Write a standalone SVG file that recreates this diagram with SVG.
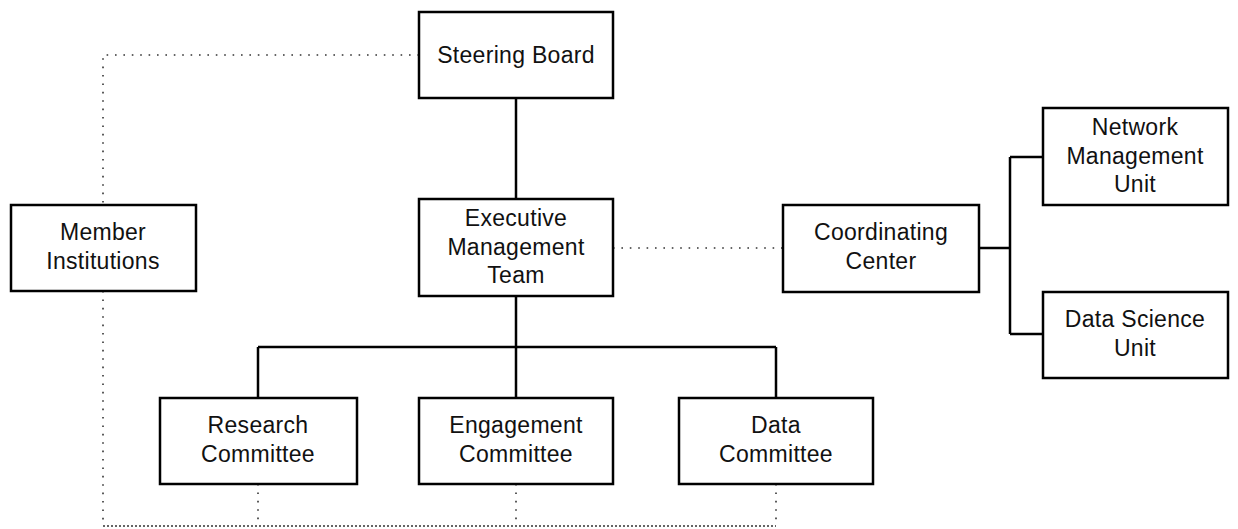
<svg xmlns="http://www.w3.org/2000/svg" width="1238" height="529" viewBox="0 0 1238 529">
  <style>
    .box { fill: #ffffff; stroke: #000000; stroke-width: 2.5; }
    .label { font-family: "Liberation Sans", Arial, sans-serif; font-size: 23px; letter-spacing: 0.3px; fill: #111111; text-anchor: middle; }
    .solid { fill: none; stroke: #000000; stroke-width: 2.5; }
    .dotted { fill: none; stroke: #333333; stroke-width: 1.6; stroke-dasharray: 1.6 6.8; }
    .dense { fill: none; stroke: #333333; stroke-width: 1.4; stroke-dasharray: 2 2; }
  </style>
  <rect width="1238" height="529" fill="#ffffff"/>

  <g id="connectors">
    <!-- reporting lines -->
    <path class="solid" d="M516 98 V199"/>
    <path class="solid" d="M516 296 V347 M258 347 H776 M258 347 V398 M516 347 V398 M776 347 V398"/>
    <path class="solid" d="M979 248 H1010 M1010 157 V334 M1010 157 H1043 M1010 334 H1043"/>
    <!-- informal links -->
    <path class="dotted" d="M419 55 H103 V205"/>
    <path class="dotted" d="M613 248 H783"/>
    <path class="dotted" d="M103 291 V526"/>
    <path class="dotted" d="M258 484 V526 M516 484 V526 M776 484 V526"/>
    <path class="dense" d="M103 526 H776"/>
  </g>

  <g id="steering-board">
    <rect class="box" x="419" y="12" width="194" height="86"/>
    <text class="label" x="516" y="63">Steering Board</text>
  </g>

  <g id="executive-management-team">
    <rect class="box" x="419" y="199" width="194" height="97"/>
    <text class="label" x="516" y="226">Executive</text>
    <text class="label" x="516" y="255">Management</text>
    <text class="label" x="516" y="283">Team</text>
  </g>

  <g id="member-institutions">
    <rect class="box" x="11" y="205" width="185" height="86"/>
    <text class="label" x="103" y="240">Member</text>
    <text class="label" x="103" y="269">Institutions</text>
  </g>

  <g id="coordinating-center">
    <rect class="box" x="783" y="205" width="196" height="87"/>
    <text class="label" x="881" y="240">Coordinating</text>
    <text class="label" x="881" y="269">Center</text>
  </g>

  <g id="network-management-unit">
    <rect class="box" x="1043" y="108" width="185" height="97"/>
    <text class="label" x="1135" y="135">Network</text>
    <text class="label" x="1135" y="164">Management</text>
    <text class="label" x="1135" y="192">Unit</text>
  </g>

  <g id="data-science-unit">
    <rect class="box" x="1043" y="292" width="185" height="86"/>
    <text class="label" x="1135" y="327">Data Science</text>
    <text class="label" x="1135" y="356">Unit</text>
  </g>

  <g id="research-committee">
    <rect class="box" x="160" y="398" width="197" height="86"/>
    <text class="label" x="258" y="433">Research</text>
    <text class="label" x="258" y="462">Committee</text>
  </g>

  <g id="engagement-committee">
    <rect class="box" x="419" y="398" width="194" height="86"/>
    <text class="label" x="516" y="433">Engagement</text>
    <text class="label" x="516" y="462">Committee</text>
  </g>

  <g id="data-committee">
    <rect class="box" x="679" y="398" width="194" height="86"/>
    <text class="label" x="776" y="433">Data</text>
    <text class="label" x="776" y="462">Committee</text>
  </g>
</svg>
